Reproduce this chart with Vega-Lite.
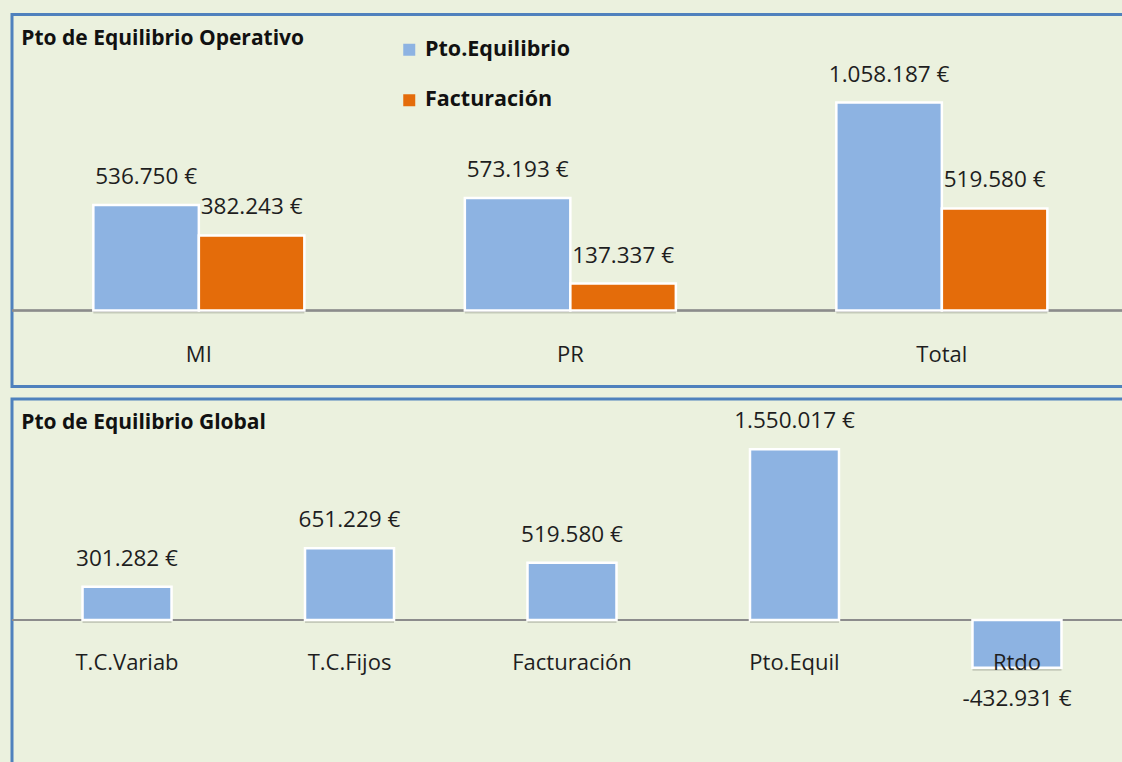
{
  "$schema": "https://vega.github.io/schema/vega-lite/v6.json",
  "background": "#EBF1DE",
  "padding": {"left": 9, "top": 12.5, "right": 0, "bottom": 0},
  "spacing": 8.5,
  "config": {
    "view": {"stroke": "#4F81BD", "strokeWidth": 3, "fill": "#EBF1DE"},
    "font": "Open Sans",
    "locale": {"number": {"decimal": ",", "thousands": ".", "grouping": [3], "currency": ["", " €"], "minus": "-"}}
  },
  "vconcat": [
    {
      "width": 1120,
      "height": 372,
      "title": {"text": "Pto de Equilibrio Operativo", "anchor": "start", "orient": "top", "offset": -51, "baseline": "alphabetic", "dx": 10, "fontSize": 21, "fontWeight": "bold", "color": "#111111", "font": "Open Sans"},
      "data": {"values": [
        {"cat": "MI", "serie": "Pto.Equilibrio", "value": 536750},
        {"cat": "MI", "serie": "Facturación", "value": 382243},
        {"cat": "PR", "serie": "Pto.Equilibrio", "value": 573193},
        {"cat": "PR", "serie": "Facturación", "value": 137337},
        {"cat": "Total", "serie": "Pto.Equilibrio", "value": 1058187},
        {"cat": "Total", "serie": "Facturación", "value": 519580}
      ]},
      "layer": [
        {
          "mark": {"type": "rule", "color": "#8C8C8C", "strokeWidth": 1.5},
          "encoding": {"y": {"datum": 0, "type": "quantitative", "axis": null, "scale": {"domain": [-386840, 1506640], "nice": false, "zero": false}}}
        },
        {
          "mark": {"type": "bar", "color": "#000000", "opacity": 0.16, "yOffset": 3, "y2Offset": 3, "x2Offset": 2},
          "encoding": {
            "x": {"field": "cat", "type": "nominal", "axis": null, "sort": ["MI", "PR", "Total"], "scale": {"paddingInner": 0.432, "paddingOuter": 0.2234, "align": 0.49}},
            "xOffset": {"field": "serie", "type": "nominal", "sort": ["Pto.Equilibrio", "Facturación"], "scale": {"paddingInner": 0, "paddingOuter": 0}},
            "y": {"field": "value", "type": "quantitative", "axis": null}
          }
        },
        {
          "mark": {"type": "bar", "stroke": "white", "strokeWidth": 2.5},
          "encoding": {
            "x": {"field": "cat", "type": "nominal", "axis": null, "sort": ["MI", "PR", "Total"], "scale": {"paddingInner": 0.432, "paddingOuter": 0.2234, "align": 0.49}},
            "xOffset": {"field": "serie", "type": "nominal", "sort": ["Pto.Equilibrio", "Facturación"], "scale": {"paddingInner": 0, "paddingOuter": 0}},
            "y": {"field": "value", "type": "quantitative", "axis": null, "scale": {"domain": [-386840, 1506640], "nice": false, "zero": false}},
            "color": {"field": "serie", "type": "nominal", "sort": ["Pto.Equilibrio", "Facturación"],
              "scale": {"domain": ["Pto.Equilibrio", "Facturación"], "range": ["#8DB3E2", "#E46C0A"]},
              "legend": {"title": null, "orient": "none", "legendX": 386.5, "legendY": 24.5, "symbolType": "square", "symbolSize": 144, "symbolStrokeWidth": 0, "labelFont": "Open Sans", "labelFontSize": 21.5, "labelFontWeight": "bold", "labelColor": "#111111", "labelOffset": 5, "rowPadding": 27.5}}
          }
        },
        {
          "mark": {"type": "text", "dy": -28, "fontSize": 22.5, "color": "#1E1E1E", "baseline": "middle"},
          "encoding": {
            "x": {"field": "cat", "type": "nominal", "axis": null, "sort": ["MI", "PR", "Total"], "scale": {"paddingInner": 0.432, "paddingOuter": 0.2234, "align": 0.49}},
            "xOffset": {"field": "serie", "type": "nominal", "sort": ["Pto.Equilibrio", "Facturación"], "scale": {"paddingInner": 0, "paddingOuter": 0}},
            "y": {"field": "value", "type": "quantitative", "axis": null},
            "text": {"field": "value", "type": "quantitative", "format": "$,.0f"}
          }
        },
        {
          "transform": [{"filter": "datum.serie === 'Pto.Equilibrio'"}],
          "mark": {"type": "text", "fontSize": 22, "color": "#1E1E1E", "baseline": "middle"},
          "encoding": {
            "x": {"field": "cat", "type": "nominal", "axis": null, "sort": ["MI", "PR", "Total"]},
            "y": {"datum": -223960, "type": "quantitative", "axis": null},
            "text": {"field": "cat", "type": "nominal"}
          }
        }
      ]
    },
    {
      "width": 1120,
      "height": 382,
      "title": {"text": "Pto de Equilibrio Global", "anchor": "start", "orient": "top", "offset": -51, "baseline": "alphabetic", "dx": 10, "fontSize": 21, "fontWeight": "bold", "color": "#111111", "font": "Open Sans"},
      "data": {"values": [
        {"cat": "T.C.Variab", "value": 301282},
        {"cat": "T.C.Fijos", "value": 651229},
        {"cat": "Facturación", "value": 519580},
        {"cat": "Pto.Equil", "value": 1550017},
        {"cat": "Rtdo", "value": -432931}
      ]},
      "layer": [
        {
          "mark": {"type": "rule", "color": "#8C8C8C", "strokeWidth": 1.5},
          "encoding": {"y": {"datum": 0, "type": "quantitative", "axis": null, "scale": {"domain": [-1461880, 2006680], "nice": false, "zero": false}}}
        },
        {
          "mark": {"type": "bar", "color": "#000000", "opacity": 0.16, "yOffset": 3, "y2Offset": 3, "x2Offset": 2},
          "encoding": {
            "x": {"field": "cat", "type": "nominal", "axis": null, "sort": ["T.C.Variab", "T.C.Fijos", "Facturación", "Pto.Equil", "Rtdo"], "scale": {"paddingInner": 0.6, "paddingOuter": 0.317, "align": 0.5}},
            "y": {"field": "value", "type": "quantitative", "axis": null}
          }
        },
        {
          "mark": {"type": "bar", "stroke": "white", "strokeWidth": 2.5, "color": "#8DB3E2"},
          "encoding": {
            "x": {"field": "cat", "type": "nominal", "axis": null, "sort": ["T.C.Variab", "T.C.Fijos", "Facturación", "Pto.Equil", "Rtdo"], "scale": {"paddingInner": 0.6, "paddingOuter": 0.317, "align": 0.5}},
            "y": {"field": "value", "type": "quantitative", "axis": null, "scale": {"domain": [-1461880, 2006680], "nice": false, "zero": false}}
          }
        },
        {
          "transform": [{"filter": "datum.value >= 0"}],
          "mark": {"type": "text", "dy": -28, "fontSize": 22.5, "color": "#1E1E1E", "baseline": "middle"},
          "encoding": {
            "x": {"field": "cat", "type": "nominal", "axis": null, "sort": ["T.C.Variab", "T.C.Fijos", "Facturación", "Pto.Equil", "Rtdo"]},
            "y": {"field": "value", "type": "quantitative", "axis": null},
            "text": {"field": "value", "type": "quantitative", "format": "$,.0f"}
          }
        },
        {
          "transform": [{"filter": "datum.value < 0"}],
          "mark": {"type": "text", "dy": 31, "fontSize": 22.5, "color": "#1E1E1E", "baseline": "middle"},
          "encoding": {
            "x": {"field": "cat", "type": "nominal", "axis": null, "sort": ["T.C.Variab", "T.C.Fijos", "Facturación", "Pto.Equil", "Rtdo"]},
            "y": {"field": "value", "type": "quantitative", "axis": null},
            "text": {"field": "value", "type": "quantitative", "format": "$,.0f"}
          }
        },
        {
          "mark": {"type": "text", "fontSize": 22, "color": "#1E1E1E", "baseline": "middle"},
          "encoding": {
            "x": {"field": "cat", "type": "nominal", "axis": null, "sort": ["T.C.Variab", "T.C.Fijos", "Facturación", "Pto.Equil", "Rtdo"]},
            "y": {"datum": -390440, "type": "quantitative", "axis": null},
            "text": {"field": "cat", "type": "nominal"}
          }
        }
      ]
    }
  ]
}
